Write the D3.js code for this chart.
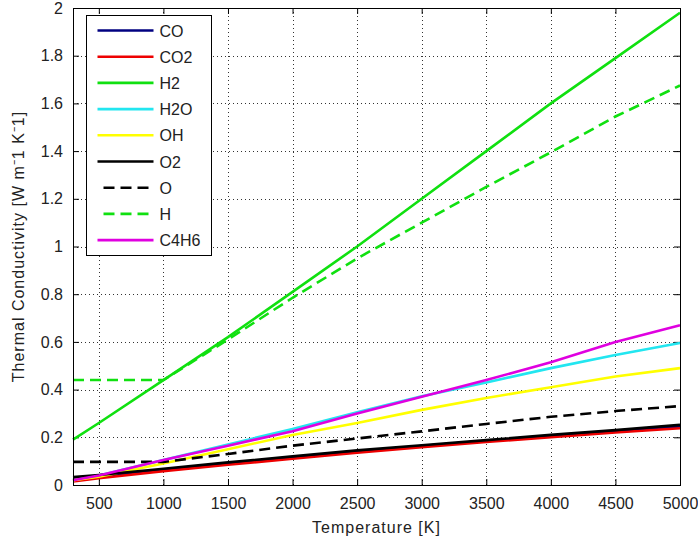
<!DOCTYPE html>
<html>
<head>
<meta charset="utf-8">
<script src="https://cdn.jsdelivr.net/npm/d3@7"></script>
<style>
body{margin:0;background:#fff;}
svg text{font-family:"Liberation Sans",Arial,sans-serif;fill:#222;}
</style>
</head>
<body>
<div id="chart"></div>
<script>
// temperature grid [K]
const temps = [300, 500, 1000, 1500, 2000, 2500, 3000, 3500, 4000, 4500, 5000];

// thermal conductivity per species
const CO   = [0.025, 0.035, 0.063, 0.090, 0.115, 0.140, 0.163, 0.185, 0.206, 0.226, 0.245];
const CO2  = [0.015, 0.028, 0.058, 0.085, 0.110, 0.135, 0.158, 0.180, 0.200, 0.220, 0.238];
const H2   = [0.19, 0.26, 0.44, 0.62, 0.81, 1.00, 1.20, 1.40, 1.60, 1.79, 1.98];
const H2O  = [0.020, 0.040, 0.105, 0.170, 0.235, 0.305, 0.372, 0.430, 0.490, 0.545, 0.595];
const OH   = [0.020, 0.035, 0.090, 0.150, 0.210, 0.260, 0.315, 0.365, 0.410, 0.455, 0.490];
const O2   = [0.033, 0.042, 0.068, 0.095, 0.120, 0.145, 0.167, 0.188, 0.210, 0.230, 0.252];
const O    = [0.097, 0.097, 0.097, 0.130, 0.165, 0.195, 0.225, 0.256, 0.286, 0.310, 0.331];
const H    = [0.44, 0.44, 0.44, 0.61, 0.785, 0.95, 1.10, 1.25, 1.395, 1.545, 1.675];
const C4H6 = [0.020, 0.040, 0.105, 0.165, 0.225, 0.300, 0.370, 0.440, 0.515, 0.600, 0.670];

const names  = ['CO', 'CO2', 'H2', 'H2O', 'OH', 'O2', 'O', 'H', 'C4H6'];
const values = [CO, CO2, H2, H2O, OH, O2, O, H, C4H6];
const colors = ['#000080', '#ee0000', '#10e010', '#22e6f0', '#ffff00', '#000000', '#000000', '#10e010', '#e000e0'];
const dashed = [false, false, false, false, false, false, true, true, false];

const xTicks = [500, 1000, 1500, 2000, 2500, 3000, 3500, 4000, 4500, 5000];
const yTicks = [0, 0.2, 0.4, 0.6, 0.8, 1, 1.2, 1.4, 1.6, 1.8, 2];

const W = 698, H_ = 542;
const m = {left: 73, right: 18, top: 8, bottom: 57};

const svg = d3.select('#chart').append('svg')
    .attr('width', W).attr('height', H_);

const x = d3.scaleLinear().domain([300, 5000]).range([m.left, W - m.right]);
const y = d3.scaleLinear().domain([0, 2]).range([H_ - m.bottom, m.top]);

//grid
const grid = svg.append('g').attr('stroke', '#333').attr('stroke-width', 1)
    .attr('stroke-dasharray', '1,3');
grid.selectAll('.gx').data(xTicks.slice(0, -1)).enter().append('line')
    .attr('x1', d => Math.round(x(d)) + 0.5).attr('x2', d => Math.round(x(d)) + 0.5)
    .attr('y1', y(0)).attr('y2', y(2));
grid.selectAll('.gy').data(yTicks.slice(1, -1)).enter().append('line')
    .attr('y1', d => Math.round(y(d)) + 0.5).attr('y2', d => Math.round(y(d)) + 0.5)
    .attr('x1', x(300)).attr('x2', x(5000));

// axes with inward ticks
svg.append('g').attr('transform', `translate(0,${y(0)})`)
    .call(d3.axisBottom(x).tickValues(xTicks).tickFormat(d3.format('d'))
        .tickSizeInner(-6).tickSizeOuter(0).tickPadding(13));
svg.append('g').attr('transform', `translate(${x(300)},0)`)
    .call(d3.axisLeft(y).tickValues(yTicks).tickFormat(d => String(d))
        .tickSizeInner(-6).tickSizeOuter(0).tickPadding(10));
svg.append('g').attr('transform', `translate(0,${y(2)})`)
    .call(d3.axisTop(x).tickValues(xTicks).tickSizeInner(-6).tickSizeOuter(0).tickFormat(''));
svg.append('g').attr('transform', `translate(${x(5000)},0)`)
    .call(d3.axisRight(y).tickValues(yTicks).tickSizeInner(-6).tickSizeOuter(0).tickFormat(''));
svg.selectAll('.domain').remove();
svg.selectAll('.tick line').attr('stroke', '#000');
svg.selectAll('.tick text').style('font-size', '16px').attr('fill', '#222');

// lines
const line = d3.line().x((d, i) => x(temps[i])).y(d => y(d));
const plot = svg.append('g');
values.forEach((v, k) => {
    plot.append('path')
        .datum(v)
        .attr('d', line)
        .attr('fill', 'none')
        .attr('stroke', colors[k])
        .attr('stroke-width', 2.6)
        .attr('stroke-dasharray', dashed[k] ? '11,6' : null);
});

// frame
svg.append('rect')
    .attr('x', x(300) + 0.5).attr('y', y(2) + 0.5)
    .attr('width', x(5000) - x(300)).attr('height', y(0) - y(2))
    .attr('fill', 'none').attr('stroke', '#000');

// legend
const lg = svg.append('g').attr('transform', 'translate(86.5,15.5)');
lg.append('rect').attr('width', 125).attr('height', 240)
    .attr('fill', '#fff').attr('stroke', '#000');
names.forEach((n, k) => {
    const yy = 15 + k * 26.2;
    lg.append('line').attr('x1', dashed[k] ? 17 : 11).attr('x2', 67)
        .attr('y1', yy).attr('y2', yy)
        .attr('stroke', colors[k]).attr('stroke-width', 2.6)
        .attr('stroke-dasharray', dashed[k] ? '11,6' : null);
    lg.append('text').attr('x', 73).attr('y', yy + 6)
        .style('font-size', '16px').text(n);
});

// axis labels
svg.append('text').attr('x', (x(300) + x(5000)) / 2).attr('y', 533)
    .attr('text-anchor', 'middle').style('font-size', '16px')
    .style('letter-spacing', '1px').text('Temperature [K]');
svg.append('text')
    .attr('transform', `translate(24,${(y(0) + y(2)) / 2}) rotate(-90)`)
    .attr('text-anchor', 'middle').style('font-size', '16px')
    .style('letter-spacing', '1px')
    .text('Thermal Conductivity [W m\u207B1 K\u207B1]');
</script>
</body>
</html>
